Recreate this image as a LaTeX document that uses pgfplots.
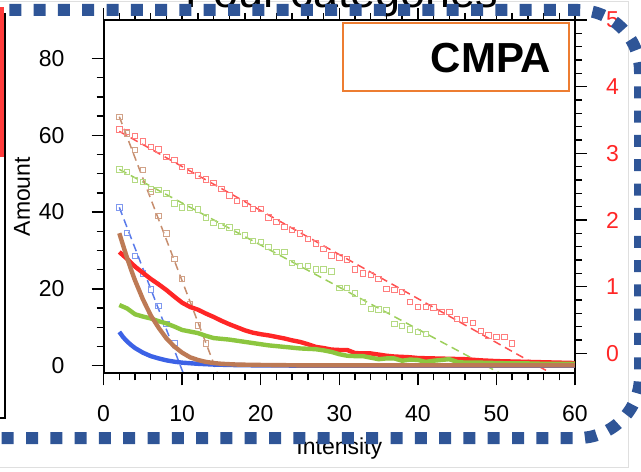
\documentclass[border=0pt]{standalone}
\usepackage{pgfplots}
\pgfplotsset{compat=1.18}
\usepackage{fontspec}
\setmainfont{Liberation Sans}
\definecolor{cred}{HTML}{FF2626}
\definecolor{cgreen}{HTML}{8CC63F}
\definecolor{cblue}{HTML}{3C62E6}
\definecolor{cbrown}{HTML}{BD7A55}
\definecolor{cborder}{HTML}{2F5597}
\definecolor{corange}{HTML}{ED7D31}
\begin{document}
\begin{tikzpicture}[x=0.5pt,y=0.5pt]
\path[use as bounding box] (0,0) rectangle (641,471);
\clip (0,0) rectangle (641,471);
% faint frame of the image
\draw[gray!25, line width=0.4pt] (0,470) -- (628,470) -- (628,4) -- (0,4);
% neighbouring panel edge
\fill[red!85, opacity=0.9] (0,464) rectangle (4,314);
\draw[black, line width=0.6pt] (5,458) -- (5,53) -- (-2,53);
% title (clipped at top, as in the reference)
\node[anchor=base, font=\fontsize{22.5}{27}\selectfont] at (342,463) {Four categories};
% right axis: fits and squares
\begin{axis}[
  at={(51.8pt,48.8pt)}, anchor=south west, scale only axis,
  width=235.7pt, height=176.7pt,
  xmin=0, xmax=60, ymin=-0.3, ymax=5,
  axis x line=none, axis y line*=right,
  axis line style={-, line width=1pt},
  ytick={0,1,...,5}, minor y tick num=4,
  tick align=outside, major tick length=6pt, minor tick length=3.5pt,
  tick style={line width=0.7pt, black},
  yticklabel style={text=cred, font=\fontsize{11.5}{13}\selectfont, xshift=6pt},
  /pgf/number format/assume math mode=true,
  clip=true,
]
\addplot[only marks, mark=square, mark size=1.35pt, color=cred!60, mark options={line width=0.45pt}] coordinates {
(2,3.36)(3,3.32)(4,3.26)(5,3.18)(6,3.10)(7,3.06)(8,2.95)(9,2.90)(10,2.80)(11,2.74)(12,2.67)(13,2.61)(14,2.56)(15,2.47)(16,2.37)(17,2.29)(18,2.25)(19,2.17)(20,2.17)(21,2.04)(22,1.97)(23,1.90)(24,1.85)(25,1.80)(26,1.72)(27,1.65)(28,1.57)(29,1.47)(30,1.44)(31,1.41)(32,1.26)(33,1.20)(34,1.18)(35,1.12)(36,0.97)(37,0.95)(38,0.92)(39,0.77)(40,0.70)(41,0.70)(42,0.69)(43,0.62)(44,0.62)(45,0.52)(46,0.50)(47,0.46)(48,0.34)(49,0.27)(50,0.25)(51,0.25)(52,0.15)};
\addplot[only marks, mark=square, mark size=1.35pt, color=cgreen!65, mark options={line width=0.45pt}] coordinates {
(2,2.76)(3,2.72)(4,2.60)(5,2.57)(6,2.47)(7,2.45)(8,2.40)(9,2.25)(10,2.19)(11,2.19)(12,2.16)(13,2.04)(14,1.96)(15,1.91)(16,1.89)(17,1.82)(18,1.77)(19,1.69)(20,1.67)(21,1.60)(22,1.52)(23,1.52)(24,1.36)(25,1.31)(26,1.31)(27,1.26)(28,1.26)(29,1.23)(30,0.98)(31,0.98)(32,0.90)(33,0.77)(34,0.67)(35,0.66)(36,0.65)(37,0.44)(38,0.41)(39,0.36)(40,0.32)(41,0.29)};
\addplot[only marks, mark=square, mark size=1.35pt, color=cblue!65, mark options={line width=0.45pt}] coordinates {
(2,2.19)(3,1.81)(4,1.46)(5,1.20)(6,0.96)(7,0.71)(8,0.44)(9,0.16)};
\addplot[only marks, mark=square, mark size=1.35pt, color=cbrown!70, mark options={line width=0.45pt}] coordinates {
(2,3.55)(3,3.30)(4,3.05)(5,2.75)(6,2.42)(7,2.06)(8,1.80)(9,1.42)(10,1.12)(11,0.74)(12,0.42)(13,0.15)};
\addplot[cred!80, line width=0.75pt, dash pattern=on 4pt off 2.5pt] coordinates {(2,3.33)(57,-0.30)};
\addplot[cgreen!85, line width=0.75pt, dash pattern=on 4pt off 2.5pt] coordinates {(2,2.76)(50.5,-0.30)};
\addplot[cblue!85, line width=0.75pt, dash pattern=on 4pt off 2.5pt] coordinates {(2,2.19)(10.15,-0.30)};
\addplot[cbrown!85, line width=0.75pt, dash pattern=on 4pt off 2.5pt] coordinates {(2,3.55)(14.5,-0.30)};
\end{axis}
% left axis: amounts
\begin{axis}[
  at={(51.8pt,48.8pt)}, anchor=south west, scale only axis,
  width=235.7pt, height=176.7pt,
  xmin=0, xmax=60, ymin=-2, ymax=90,
  xtick={0,10,...,60}, minor x tick num=4,
  ytick={0,20,...,80}, minor y tick num=3,
  xtick pos=both, xticklabel pos=left, ytick pos=left,
  tick align=outside, major tick length=6pt, minor tick length=3.5pt,
  axis line style={line width=1pt},
  tick style={line width=0.7pt, black},
  ticklabel style={font=\fontsize{11.5}{13}\selectfont},
  xticklabel style={yshift=-6.5pt},
  yticklabel style={xshift=-10pt},
  /pgf/number format/assume math mode=true,
  xlabel={Intensity}, ylabel={Amount},
  label style={font=\fontsize{11.5}{13}\selectfont},
  xlabel style={at={(axis description cs:0.5,-0.214)}, anchor=center},
  ylabel style={at={(axis description cs:-0.173,0.5)}, anchor=center},
  clip=true,
]
\addplot[cblue, line width=2.2pt, line join=round] coordinates {
(2,8.8)(2.5,7.4)(3,6.3)(3.5,5.4)(4,4.6)(5,3.4)(6,2.5)(7,1.9)(8,1.4)(9,1.05)(10,0.8)(12,0.5)(14,0.3)(17,0.15)(20,0.08)(25,0.03)(30,0.01)(40,0)(50,0)(60,0)};
\addplot[cred, line width=2.2pt, line join=round] coordinates {
(2,29.6)(3,27.8)(4,25.8)(5,24.2)(6,22.6)(7,21.2)(8,19.7)(9,18)(10,16.4)(11,15.3)(12,14.6)(13,13.6)(14,12.7)(15,11.7)(16,10.8)(17,10)(18,9.2)(19,8.6)(20,8.2)(21,7.9)(22,7.5)(23,7.1)(24,6.6)(25,6.2)(26,5.6)(27,4.9)(28,4.6)(29,4.2)(30,4.1)(31,4.1)(32,3.3)(33,3.2)(34,3.2)(35,2.9)(36,2.6)(37,2.4)(38,2.3)(39,2.2)(40,2.0)(42,1.9)(44,1.8)(46,1.7)(48,1.4)(50,1.2)(52,1.1)(54,1.0)(56,0.9)(58,0.8)(60,0.7)};
\addplot[cgreen, line width=2.2pt, line join=round] coordinates {
(2,15.8)(3,14.9)(4,13.4)(5,12.8)(6,12.3)(7,11.6)(8,11)(9,10.2)(10,9.3)(11,8.9)(12,8.5)(13,7.8)(14,7.2)(15,7)(16,6.8)(17,6.5)(18,6.2)(19,5.9)(20,5.6)(21,5.3)(22,5.1)(23,4.9)(24,4.7)(25,4.5)(26,4.4)(27,4.3)(28,4)(29,3.6)(30,3.0)(31,2.6)(32,2.5)(33,2.5)(34,2.1)(35,1.7)(36,1.9)(37,1.9)(38,1.3)(39,1.6)(40,1.5)(41,1.0)(42,1.3)(43,1.5)(44,1.7)(45,1.0)(46,0.8)(48,0.8)(50,0.7)(52,0.6)(54,0.6)(56,0.5)(58,0.5)(60,0.5)};
\addplot[cbrown, line width=2.2pt, line join=round] coordinates {
(2,34.5)(2.5,31.2)(3,28)(3.5,25)(4,22.2)(5,17.3)(6,13.1)(7,9.9)(8,7.1)(9,5)(10,3.4)(11,2.2)(12,1.5)(13,1)(14,0.7)(15,0.5)(17,0.3)(20,0.2)(25,0.1)(30,0.1)(40,0.1)(50,0.1)(60,0.1)};
\end{axis}
% CMPA box
\draw[corange, line width=1pt] (343,448) rectangle (569,380);
\node[font=\bfseries\fontsize{21}{25}\selectfont] at (491,413) {CMPA};
% dashed rounded border
\draw[cborder, line width=6pt, dash pattern=on 6pt off 6.15pt, rounded corners=31pt]
  (-46.9,33) -- (640,33) -- (640,247);
\draw[cborder, line width=6pt, dash pattern=on 6pt off 6.15pt, rounded corners=31pt]
  (-15,461) -- (640,461) -- (640,247);
\end{tikzpicture}
\end{document}
